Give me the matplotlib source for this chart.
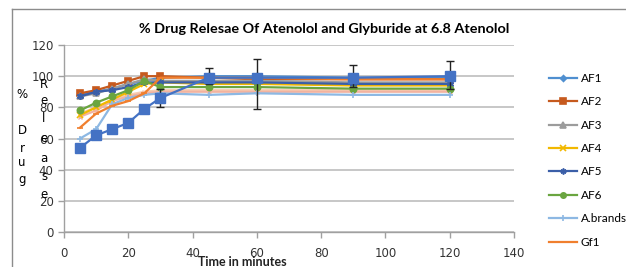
import matplotlib
matplotlib.use("Agg")
import matplotlib.pyplot as plt
from matplotlib.lines import Line2D

time = [5, 10, 15, 20, 25, 30, 45, 60, 90, 120]

AF1 = [88, 90, 92, 95, 97, 99, 100, 100, 99, 99]
AF2 = [89, 91, 94, 97, 100, 100, 99, 98, 98, 98]
AF3 = [87, 89, 92, 95, 98, 97, 97, 97, 96, 96]
AF4 = [75, 80, 85, 90, 95, 96, 95, 95, 94, 94]
AF5 = [87, 90, 91, 93, 96, 96, 96, 96, 95, 95]
AF6 = [78, 83, 87, 91, 97, 93, 93, 93, 92, 92]
A_brands = [60, 66, 82, 86, 88, 89, 88, 89, 88, 88]
Gf1 = [67, 76, 81, 84, 89, 99, 99, 99, 98, 98]
Gf2 = [74, 78, 84, 87, 89, 90, 90, 90, 90, 90]
Gf3 = [76, 80, 85, 88, 90, 91, 91, 91, 91, 91]
Gf4 = [54, 62, 66, 70, 79, 86, 99, 99, 99, 100]
Gf4_err_low = [0, 0, 0, 0, 0, 6, 4, 20, 6, 8]
Gf4_err_high = [0, 0, 0, 0, 0, 6, 6, 12, 8, 10]

labels = ["AF1", "AF2", "AF3", "AF4", "AF5", "AF6", "A.brands", "Gf1"]

fig = plt.figure(figsize=(6.26, 2.67), dpi=100)
W, H = 626, 267
ax = fig.add_axes([64 / W, 1 - 232 / H, (514 - 64) / W, (232 - 45) / H])

plot_font = "Lato"

styles = [
    (AF1, "#4F8FD0", "D", 3.5),
    (AF2, "#C65A1E", "s", 5),
    (AF3, "#9C9C9C", "^", 4.5),
    (AF4, "#F2B800", "x", 4.5),
    (AF5, "#3B5FA8", (6, 2, 0), 5),
    (AF6, "#6AA540", "o", 4.5),
    (A_brands, "#8DB8E3", "+", 5),
    (Gf1, "#F07F2E", "_", 4),
]

# background lighter series first
ax.plot(time, Gf3, color="#F7CDB0", lw=1.6, marker="x", ms=3.5, zorder=2)
ax.plot(time, Gf2, color="#F2B3A0", lw=1.6, marker="x", ms=3.5, zorder=2)

handles = []
for (vals, c, m, ms), lab in zip(styles, labels):
    h, = ax.plot(time, vals, color=c, lw=1.6, marker=m, ms=ms, mew=1.2, zorder=3, label=lab)
    handles.append(h)

ax.errorbar(time, Gf4, yerr=[Gf4_err_low, Gf4_err_high], color="#4472C4", lw=1.6,
            marker="s", ms=6.5, ecolor="#222222", elinewidth=1.0, capsize=3,
            capthick=1.0, zorder=4)

ax.set_xlim(0, 140)
ax.set_ylim(0, 120)
ax.set_xticks(range(0, 141, 20))
ax.set_yticks(range(0, 121, 20))
ax.grid(axis="y", color="#BEBEBE", lw=1.2)
ax.set_axisbelow(True)
for s in ["top", "right"]:
    ax.spines[s].set_visible(False)
for s in ["left", "bottom"]:
    ax.spines[s].set_color("#A0A0A0")
    ax.spines[s].set_linewidth(1.0)
ax.tick_params(axis="both", direction="out", length=4, width=1.0, color="#A0A0A0",
               labelsize=8.5, labelcolor="#333333")
ax.tick_params(axis="x", pad=7)
for lbl in ax.get_xticklabels() + ax.get_yticklabels():
    lbl.set_family("DejaVu Sans")

fig.text(324 / W, 1 - 29 / H, "% Drug Relesae Of Atenolol and Glyburide at 6.8 Atenolol",
         ha="center", va="center", fontsize=10.4, fontweight="bold", family=plot_font)
fig.text(242 / W, 1 - 262 / H, "Time in minutes", ha="center", va="center",
         fontsize=9, family=plot_font, fontweight="bold", color="#222222")

col1 = [("%", 95), ("D", 131), ("r", 148), ("u", 163), ("g", 180)]
col2 = [("R", 85), ("e", 101), ("l", 118), ("e", 139), ("a", 159), ("s", 176), ("e", 194)]
for ch, yy in col1:
    fig.text(22 / W, 1 - yy / H, ch, ha="center", va="center", fontsize=8.5, family="DejaVu Sans")
for ch, yy in col2:
    fig.text(44 / W, 1 - yy / H, ch, ha="center", va="center", fontsize=8.5, family="DejaVu Sans")

leg = fig.legend(handles=handles, loc="upper left", bbox_to_anchor=(543 / W, 1 - 67 / H),
                 frameon=False, labelspacing=1.05, handlelength=2.4, markerscale=0.85,
                 handletextpad=0.3, borderpad=0, prop={"family": plot_font, "size": 8.5})

frame_color = "#8C8C8C"
fig.add_artist(Line2D([12 / W, 12 / W], [0, 1 - 9 / H], transform=fig.transFigure,
                      color=frame_color, lw=1.0))
fig.add_artist(Line2D([12 / W, 1], [1 - 9 / H, 1 - 9 / H], transform=fig.transFigure,
                      color=frame_color, lw=1.0))

fig.savefig("out.png", dpi=100)
